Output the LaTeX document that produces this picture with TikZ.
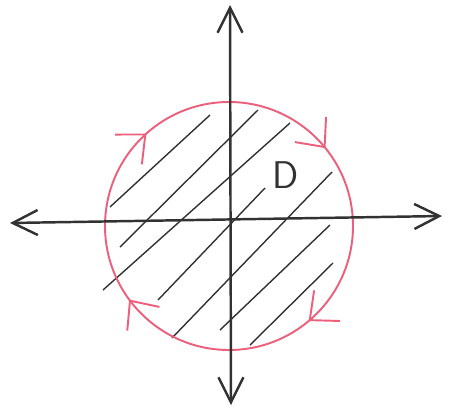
\documentclass[tikz,border=0pt]{standalone}
\usepackage{xcolor}
\usetikzlibrary{arrows.meta,decorations.markings}
\definecolor{penpink}{RGB}{236,96,124}
\definecolor{pencil}{RGB}{50,50,50}

\begin{document}
\begin{tikzpicture}[x=0.02cm,y=0.02cm]
    \useasboundingbox (0,0) rectangle (456,410);

    % 定义点变量
    \coordinate (O) at (229,184);
    \coordinate (L) at (10,187);
    \coordinate (R) at (442,194);
    \coordinate (T) at (230,405);
    \coordinate (B) at (231,5);

    % 阴影线
    \draw[pencil,line width=0.8pt] (110,203) -- (210,295);
    \draw[pencil,line width=0.8pt] (120,163) -- (258,300);
    \draw[pencil,line width=0.8pt] (103,120) -- (290,287);
    \draw[pencil,line width=0.8pt] (158,110) -- (265,222);
    \draw[pencil,line width=0.8pt] (172,72) -- (332,238);
    \draw[pencil,line width=0.8pt] (220,80) -- (330,185);
    \draw[pencil,line width=0.8pt] (250,65) -- (333,147);

    % 圆周 (顺时针)
    \draw[penpink,line width=1.1pt,postaction={decorate},
      decoration={markings,
        mark=at position 0.134 with {\arrow{Straight Barb[length=4.5mm,width=8mm]}},
        mark=at position 0.392 with {\arrow{Straight Barb[length=4.5mm,width=8mm]}},
        mark=at position 0.639 with {\arrow{Straight Barb[length=4.5mm,width=8mm]}},
        mark=at position 0.899 with {\arrow{Straight Barb[length=4.5mm,width=8mm]}}}]
      (O) ++(180:124) arc[start angle=180,end angle=-180,radius=124];

    % 坐标轴
    \draw[pencil,line width=1.4pt,{Straight Barb[length=5mm,width=5mm]}-{Straight Barb[length=5mm,width=5mm]}] (L) -- (R);
    \draw[pencil,line width=1.4pt,{Straight Barb[length=5mm,width=5mm]}-{Straight Barb[length=5mm,width=5mm]}] (B) -- (T);

    % 区域标记
    \node[pencil,font=\sffamily\fontsize{22}{22}\selectfont] (lblD) at (286,235) {D};

\end{tikzpicture}
\end{document}
